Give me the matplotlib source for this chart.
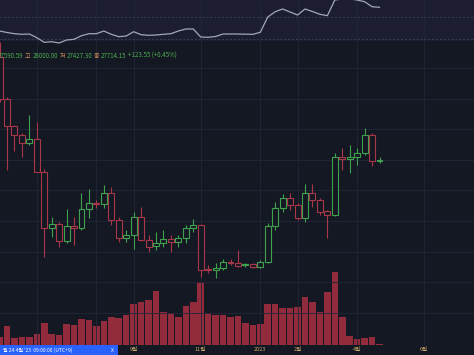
import matplotlib
matplotlib.use('Agg')
import matplotlib.pyplot as plt
from matplotlib.patches import Rectangle
import pandas as pd

plt.rcParams['font.family'] = ['Noto Sans CJK KR', 'DejaVu Sans']

# 주봉 시가/고가/저가/종가 (2022-05-02 주 ~ 2023-04-24 주)
opens = [38470, 34060, 31300, 30270, 29450, 29870, 26500, 20590, 21000, 19300,
         20850, 20590, 22570, 23260, 23100, 24300, 21460, 19550, 19900, 21800,
         19400, 18700, 19060, 19440, 19200, 19550, 20600, 20950, 16300, 16280,
         16450, 17100, 17000, 16760, 16840, 16540, 17120, 20830, 22700, 23720,
         23020, 21630, 24240, 23540, 22400, 21980, 28060, 27780, 28000, 28470,
         30320, 27590.59]
highs = [40020, 34240, 31400, 30560, 32400, 31700, 26800, 21800, 21280, 22570,
         21800, 24240, 24650, 23540, 25100, 24930, 21800, 20410, 22320, 22780,
         19890, 20240, 20410, 19890, 19890, 20930, 21530, 21000, 16765, 16940,
         17360, 17360, 18330, 17000, 16960, 17290, 21110, 23360, 24170, 24300,
         23200, 25210, 25210, 23700, 22550, 28410, 28930, 29280, 28930, 31020,
         30500, 28000.00]
lows = [33710, 26700, 28700, 28050, 29300, 26450, 17630, 19650, 18680, 19030,
        18800, 20400, 21630, 22670, 22700, 20930, 19200, 19190, 18400, 19300,
        18150, 18330, 18680, 18150, 18680, 19100, 20240, 15540, 15900, 15370,
        16240, 16765, 16520, 16580, 16460, 16420, 17000, 20410, 22320, 22500,
        21460, 21280, 22780, 21980, 19550, 21900, 26670, 26320, 27190, 28235,
        27090, 27427.30]
closes = [34060, 31300, 30270, 29450, 29870, 26500, 20590, 21000, 19300, 20850,
          20590, 22570, 23260, 23100, 24300, 21460, 19550, 19900, 21800, 19400,
          18680, 19060, 19440, 19200, 19550, 20600, 20950, 16210, 16280, 16450,
          17100, 16930, 16700, 16840, 16540, 17120, 20830, 22700, 23720, 23020,
          21630, 24240, 23540, 22320, 21980, 28060, 27780, 28000, 28470, 30320,
          27590.59, 27714.15]
volume = [8, 18.7, 7.3, 8.3, 8.3, 10.7, 22.3, 11, 10.3, 21.3,
          20, 26, 25, 18.7, 24, 27.7, 26.7, 29.7, 41.3, 43,
          44.7, 54, 33, 32.3, 28, 39.3, 43, 63, 31.7, 30.3,
          30.3, 28, 29, 22.3, 20, 21.3, 41.3, 40.7, 37.3, 37.3,
          38, 48, 43.3, 33, 53, 73.3, 28, 9.3, 5.7, 7.3,
          8, 0.6]
# 상단 비교 지표
indicator = [9, 7.5, 6.3, 5.7, 6, 2.3, -2.3, -1.7, -3, 0,
             0.7, 4.3, 6.3, 6.3, 9, 5.7, 3.3, 4, 8.3, 5.3,
             4.7, 5, 5.7, 6.3, 9, 11, 11, 3, 2.7, 3.5,
             6, 6, 6, 5.8, 5.7, 7.7, 23, 28.3, 31, 28,
             25, 31, 28.5, 25.7, 24.3, 40, 41, 41, 40, 38.3,
             33.3, 32.7]

weeks = pd.date_range('2022-05-02', periods=64, freq='7D')
# 6월/8월 눈금은 파란 라벨 밑에 가려져 있음 (격자선만 보임)
month_keys = ['2022-06', '2022-08', '2022-09', '2022-11', '2023-01', '2023-02', '2023-04', '2023-06']
month_labels = ['', '', '9월', '11월', '2023', '2월', '4월', '6월']

legend_parts = [('시', '#d0905a'), ('27590.59', '#4caf50'), ('고', '#d0905a'), ('28000.00', '#4caf50'),
                ('저', '#d0905a'), ('27427.30', '#4caf50'), ('종', '#d0905a'), ('27714.15', '#4caf50'),
                ('+123.55 (+0.45%)', '#4caf50')]

BG = '#141823'
TOP_BG = '#1c1d30'
GRID = '#22263a'
UP = '#3fa34d'
DOWN = '#a8374a'

W, H = 474, 355
fig = plt.figure(figsize=(W / 100, H / 100), dpi=100, facecolor=BG)

rect = [0, 10 / H, 1, 305 / H]
xlim = (0.45 / 7.45, 474.45 / 7.45)

tick_pos = []
for m in month_keys:
    tick_pos.append([i for i, d in enumerate(weeks) if d.strftime('%Y-%m') == m][0])

# 거래량
axv = fig.add_axes(rect, facecolor=BG)
x = list(range(len(closes)))
axv.bar(x, volume, width=0.88, color='#922c3c', linewidth=0)
axv.set_ylim(0, 305)
axv.set_xlim(*xlim)
axv.axis('off')

# 캔들
ax = fig.add_axes(rect, facecolor='none')
ax.set_xlim(*xlim)
ax.set_ylim(8423, 40227)
for i in x:
    col = UP if closes[i] >= opens[i] else DOWN
    ax.vlines(i, lows[i], highs[i], color=col, linewidth=0.8, zorder=3)
    lo = min(opens[i], closes[i])
    hi = max(opens[i], closes[i])
    ax.bar(i, max(hi - lo, 40), bottom=lo, width=0.8, facecolor=BG,
           edgecolor=col, linewidth=0.8, zorder=4)
ax.set_yticks([37300, 34110, 30920, 27730, 24540, 21350, 18160, 14970, 11780])
ax.set_xticks(tick_pos)
ax.set_xticklabels(month_labels)
ax.tick_params(axis='both', length=0, labelleft=False, pad=1.5,
               labelsize=4, labelcolor='#c8a86a')
ax.grid(True, color=GRID, linewidth=0.6)
ax.set_axisbelow(True)
for s in ax.spines.values():
    s.set_visible(False)

# 상단 패널
axt = fig.add_axes([0, (H - 48) / H, 1, 48 / H], facecolor='none')
axt.set_xlim(*xlim)
axt.set_ylim(-8, 40)
axt.axhspan(0, 40, color=TOP_BG, zorder=0)
for p in tick_pos:
    axt.axvline(p, ymin=8 / 48, color='#24263c', linewidth=0.6, zorder=1)
axt.axhline(23, color='#3a3d55', linewidth=0.7, linestyle=(0, (2, 2)), zorder=1)
axt.axhline(1, color='#3a3d55', linewidth=0.7, linestyle=(0, (2, 2)), zorder=1)
axt.plot(x, indicator, color='#a3a6b8', linewidth=0.9, zorder=2)
axt.axis('off')

# 범례 (시고저종)
renderer = fig.canvas.get_renderer()
px = -9
for txt, col in legend_parts:
    t = fig.text(px / W, (H - 56) / H, txt, color=col, fontsize=4.4, va='center', ha='left')
    px = t.get_window_extent(renderer=renderer).x1 + 1.5

# 하단 파란 라벨
fig.patches.append(Rectangle((0, 0), 118 / W, 10 / H, transform=fig.transFigure,
                             facecolor='#2962ff', edgecolor='none', zorder=5))
fig.text(3 / W, 5 / H, '월 24 4월 \'23  09:00:00 (UTC+9)', color='white', fontsize=3.6,
         va='center', ha='left', zorder=6)
fig.text(112 / W, 5 / H, 'X', color='white', fontsize=3.6, va='center', ha='center', zorder=6)

fig.savefig('out.png', dpi=100, facecolor=BG)
